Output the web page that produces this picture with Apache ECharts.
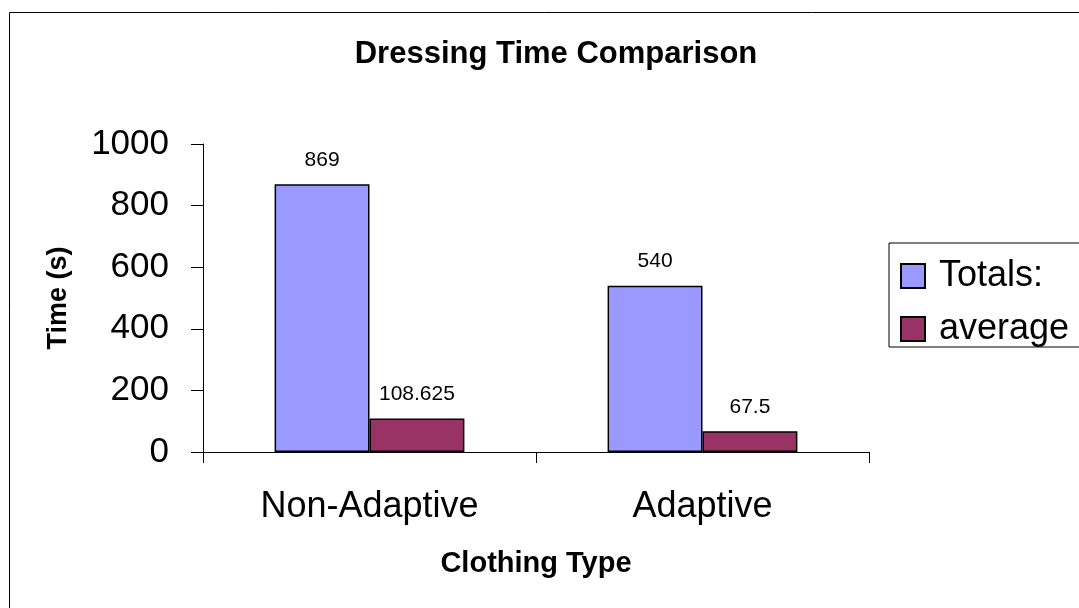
<!DOCTYPE html>
<html>
<head>
<meta charset="utf-8">
<style>
  html, body { margin: 0; padding: 0; background: #fff; }
  #chart { width: 1079px; height: 608px; }
</style>
<script src="https://cdn.jsdelivr.net/npm/echarts@6/dist/echarts.min.js"></script>
</head>
<body>
<div id="chart"></div>
<script>
// Dressing time per clothing type, in seconds
const categories = ['Non-Adaptive', 'Adaptive'];
const totals = [869, 540];
const averages = [108.625, 67.5];
const yTicks = { min: 0, max: 1000, interval: 200 };

const FONT = '"Liberation Sans", Arial, sans-serif';

const chart = echarts.init(document.getElementById('chart'));

const barLabel = {
  show: true,
  position: 'top',
  distance: 14,
  color: '#000',
  fontFamily: FONT,
  fontSize: 21
};

chart.setOption({
  animation: false,
  backgroundColor: '#fff',
  title: {
    text: 'Dressing Time Comparison',
    left: 551,
    textAlign: 'center',
    top: 34,
    textStyle: { fontFamily: FONT, fontSize: 31, fontWeight: 'bold', color: '#000' }
  },
  graphic: [{
    type: 'rect',
    shape: { x: 9.5, y: 12.5, width: 1200, height: 800 },
    style: { fill: 'none', stroke: '#000', lineWidth: 1 },
    silent: true,
    z: -1
  }],
  legend: {
    orient: 'vertical',
    left: 889,
    top: 243,
    padding: [15, 14, 0, 11],
    itemGap: 17,
    itemWidth: 24,
    itemHeight: 24,
    icon: 'rect',
    borderColor: '#000',
    borderWidth: 1,
    textStyle: { fontFamily: FONT, fontSize: 36, lineHeight: 30, color: '#000', padding: [0, 0, 0, 9] },
    data: ['Totals:', 'average']
  },
  grid: { left: 203, right: 210, top: 144, bottom: 156 },
  xAxis: {
    type: 'category',
    data: categories,
    name: 'Clothing Type',
    nameLocation: 'middle',
    nameGap: 97,
    nameTextStyle: { fontFamily: FONT, fontSize: 29, fontWeight: 'bold', color: '#000' },
    axisLine: { lineStyle: { color: '#000', width: 1 } },
    axisTick: { show: true, length: 11, lineStyle: { color: '#000' } },
    axisLabel: { fontFamily: FONT, fontSize: 36, color: '#000', margin: 37 }
  },
  yAxis: {
    type: 'value',
    min: yTicks.min,
    max: yTicks.max,
    interval: yTicks.interval,
    name: 'Time (s)',
    nameLocation: 'middle',
    nameGap: 131,
    nameRotate: 90,
    nameTextStyle: { fontFamily: FONT, fontSize: 27, fontWeight: 'bold', color: '#000' },
    axisLine: { show: true, lineStyle: { color: '#000', width: 1 } },
    axisTick: { show: true, length: 12, lineStyle: { color: '#000' } },
    splitLine: { show: false },
    axisLabel: {
      fontFamily: FONT, fontSize: 35, color: '#000', margin: 34,
      formatter: (v) => String(v)
    }
  },
  series: [
    {
      name: 'Totals:',
      type: 'bar',
      data: totals,
      barGap: '0%',
      barCategoryGap: '43%',
      itemStyle: { color: '#9999FF', borderColor: '#000', borderWidth: 1.5 },
      label: barLabel
    },
    {
      name: 'average',
      type: 'bar',
      data: averages,
      itemStyle: { color: '#993366', borderColor: '#000', borderWidth: 1.5 },
      label: barLabel
    }
  ]
});
</script>
</body>
</html>
